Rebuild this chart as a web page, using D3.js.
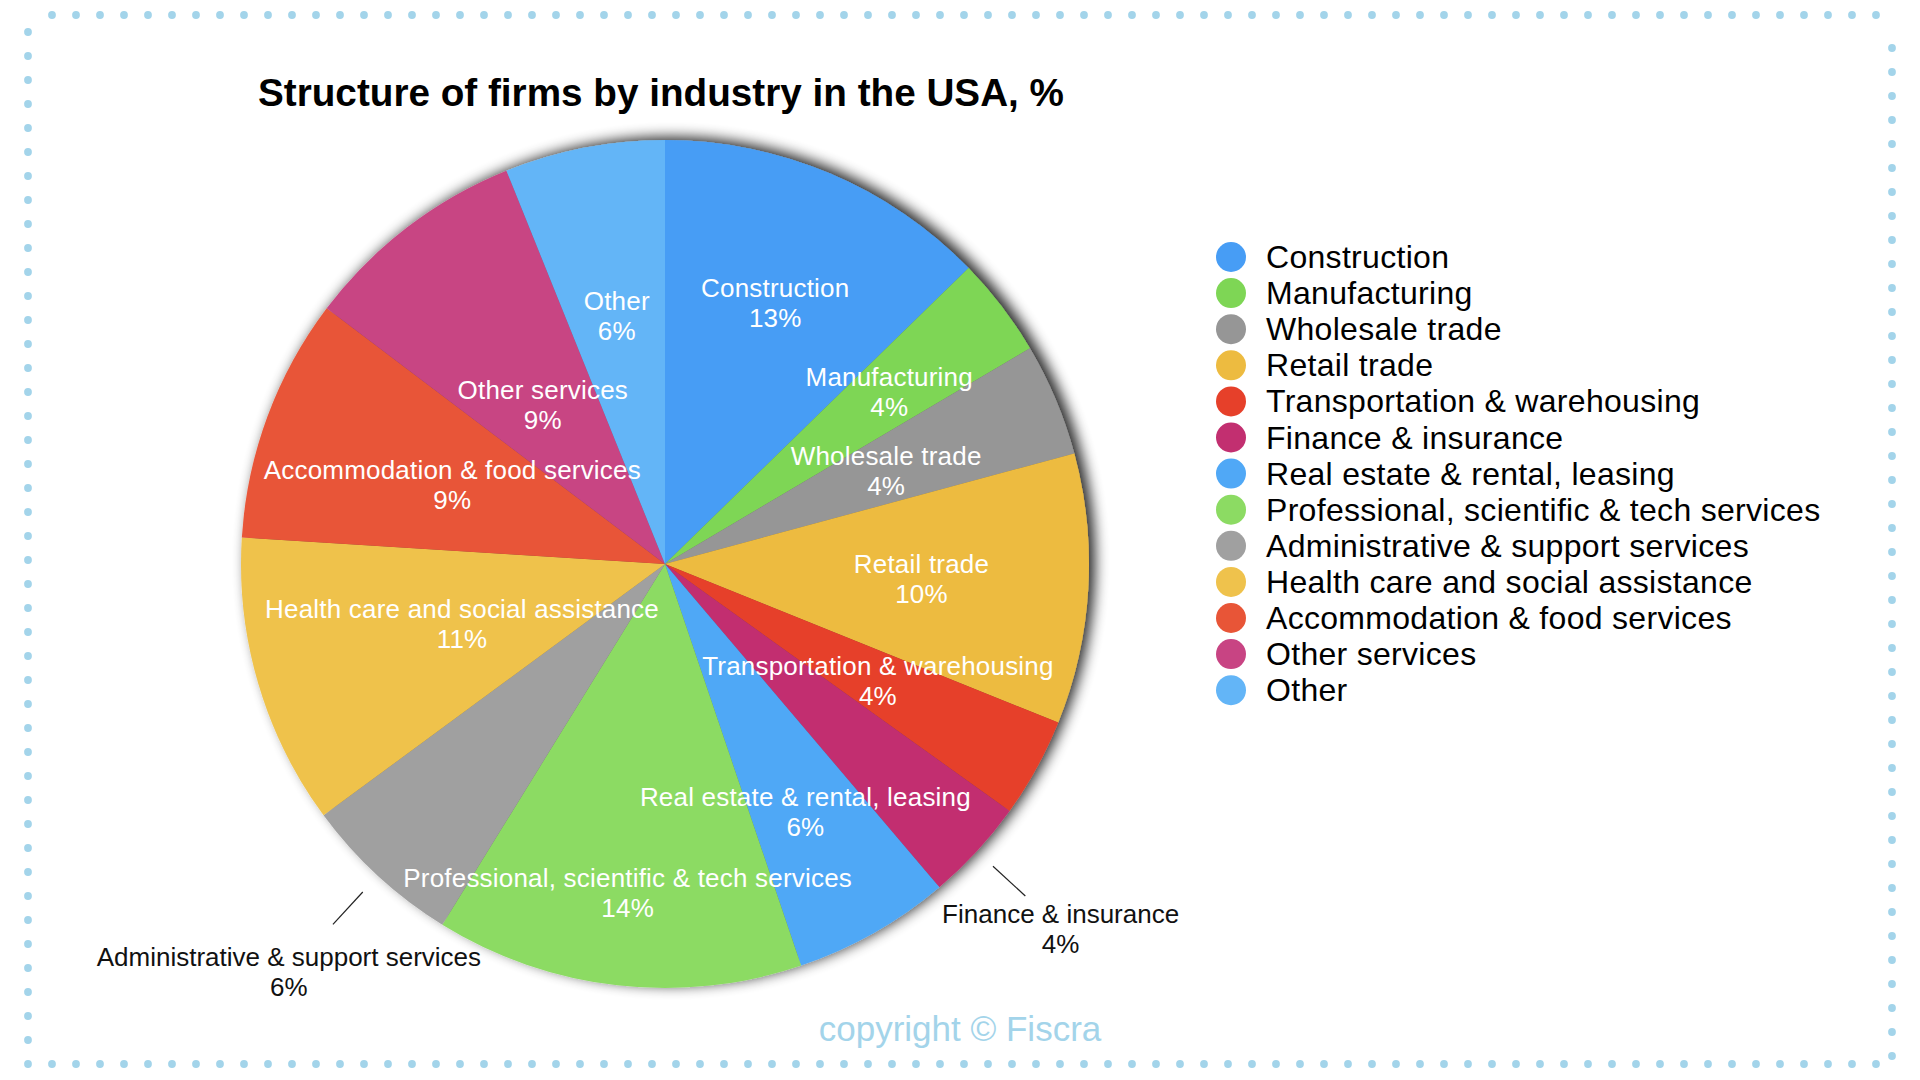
<!DOCTYPE html>
<html>
<head>
<meta charset="utf-8">
<script src="https://cdn.jsdelivr.net/npm/d3@7"></script>
<style>
  html, body { margin: 0; padding: 0; background: #ffffff; }
  svg { display: block; font-family: "Liberation Sans", Arial, Helvetica, sans-serif; }
</style>
</head>
<body>
<svg id="chart" width="1920" height="1080"></svg>
<script>
// ---------- data ----------
const categories = [
  "Construction",
  "Manufacturing",
  "Wholesale trade",
  "Retail trade",
  "Transportation & warehousing",
  "Finance & insurance",
  "Real estate & rental, leasing",
  "Professional, scientific & tech services",
  "Administrative & support services",
  "Health care and social assistance",
  "Accommodation & food services",
  "Other services",
  "Other"
];
const values = [12.7, 3.8, 4.3, 10.3, 3.8, 3.9, 6.0, 14.0, 6.1, 11.1, 9.3, 8.6, 6.1];
const colors = [
  "#479df5", "#7ed655", "#969696", "#edbb40", "#e6402a", "#c22f70",
  "#50a8f6", "#8cdb63", "#a0a0a0", "#efc24c", "#e85537", "#c84483", "#63b5f7"
];
const titleText = "Structure of firms by industry in the USA, %";
const copyrightText = "copyright \u00A9 Fiscra";

// ---------- layout ----------
const W = 1920, H = 1080;
const cx = 665, cy = 564, R = 424;
// radial position of each in-slice label (fraction of radius); null = outside label
const labelRadiusFrac = [0.669, 0.666, 0.566, 0.606, 0.573, null, 0.672, 0.781, null, 0.499, 0.535, 0.474, 0.597];
const outsideLabelR = { 5: 538, 8: 555 };
const labelFont = 26, labelLine = 30;

const data = categories.map((c, i) => ({ name: c, value: values[i], color: colors[i], i }));
const svg = d3.select("#chart");

svg.append("rect").attr("width", W).attr("height", H).attr("fill", "#ffffff");

// ---------- dotted frame ----------
const dotColor = "#a3d4ea";
const dots = [];
for (let x = 52; x <= 1880; x += 24) dots.push([x, 15]);
for (let y = 32; y <= 1064; y += 24) dots.push([28, y]);
for (let x = 52; x <= 1880; x += 24) dots.push([x, 1064]);
for (let y = 1056; y >= 30; y -= 24) dots.push([1892, y]);
svg.append("g").selectAll("circle").data(dots).join("circle")
  .attr("cx", d => d[0]).attr("cy", d => d[1]).attr("r", 3.9).attr("fill", dotColor);

// ---------- title ----------
svg.append("text")
  .attr("x", 258).attr("y", 106)
  .attr("font-size", 38).attr("font-weight", "bold").attr("fill", "#000")
  .attr("textLength", 806).attr("lengthAdjust", "spacingAndGlyphs")
  .text(titleText);

// ---------- shadow filter ----------
const defs = svg.append("defs");
const f = defs.append("filter").attr("id", "shadow")
  .attr("x", "-20%").attr("y", "-20%").attr("width", "140%").attr("height", "140%");
f.append("feGaussianBlur").attr("in", "SourceAlpha").attr("stdDeviation", 7).attr("result", "blur");
f.append("feOffset").attr("in", "blur").attr("dx", 6).attr("dy", -3).attr("result", "off");
f.append("feComponentTransfer").attr("in", "off").attr("result", "sh")
  .append("feFuncA").attr("type", "linear").attr("slope", 0.85);
const fm = f.append("feMerge");
fm.append("feMergeNode").attr("in", "sh");
fm.append("feMergeNode").attr("in", "SourceGraphic");

// ---------- pie ----------
const pie = d3.pie().sort(null).value(d => d.value);
const arcs = pie(data);
const arc = d3.arc().innerRadius(0).outerRadius(R);

const g = svg.append("g").attr("transform", `translate(${cx},${cy})`);
g.append("g").attr("filter", "url(#shadow)")
  .selectAll("path").data(arcs).join("path")
  .attr("d", arc).attr("fill", d => d.data.color);

// in-slice labels
const inside = arcs.filter(d => labelRadiusFrac[d.data.i] !== null);
const insideG = g.append("g").selectAll("text").data(inside).join("text")
  .attr("text-anchor", "middle").attr("font-size", labelFont).attr("fill", "#ffffff")
  .attr("letter-spacing", 0.2)
  .attr("transform", d => {
    const r = labelRadiusFrac[d.data.i] * R;
    const [x, y] = d3.arc().innerRadius(r).outerRadius(r).centroid(d);
    return `translate(${x},${y})`;
  });
insideG.append("tspan").attr("x", 0).attr("y", -labelLine / 2 + labelFont * 0.35).text(d => d.data.name);
insideG.append("tspan").attr("x", 0).attr("y", labelLine / 2 + labelFont * 0.35).text(d => Math.round(d.data.value) + "%");

// outside labels with leader lines
const outside = arcs.filter(d => labelRadiusFrac[d.data.i] === null);
g.append("g").selectAll("line").data(outside).join("line")
  .attr("x1", d => d3.arc().innerRadius(446).outerRadius(446).centroid(d)[0])
  .attr("y1", d => d3.arc().innerRadius(446).outerRadius(446).centroid(d)[1])
  .attr("x2", d => d3.arc().innerRadius(490).outerRadius(490).centroid(d)[0])
  .attr("y2", d => d3.arc().innerRadius(490).outerRadius(490).centroid(d)[1])
  .attr("stroke", "#222").attr("stroke-width", 1.2);
const outG = g.append("g").selectAll("text").data(outside).join("text")
  .attr("text-anchor", "middle").attr("font-size", labelFont).attr("fill", "#111")
  .attr("transform", d => {
    const r = outsideLabelR[d.data.i];
    const [x, y] = d3.arc().innerRadius(r).outerRadius(r).centroid(d);
    return `translate(${x},${y})`;
  });
outG.append("tspan").attr("x", 0).attr("y", -labelLine / 2 + labelFont * 0.35).text(d => d.data.name);
outG.append("tspan").attr("x", 0).attr("y", labelLine / 2 + labelFont * 0.35).text(d => Math.round(d.data.value) + "%");

// ---------- legend ----------
const legY = d3.scalePoint().domain(categories).range([257, 257 + 36.1 * (categories.length - 1)]);
const leg = svg.append("g").selectAll("g").data(data).join("g")
  .attr("transform", d => `translate(0,${legY(d.name)})`);
leg.append("circle").attr("cx", 1231).attr("cy", 0).attr("r", 15).attr("fill", d => d.color);
leg.append("text").attr("x", 1266).attr("y", 11).attr("font-size", 32).attr("fill", "#000")
  .attr("letter-spacing", 0.3)
  .text(d => d.name);

// ---------- copyright ----------
svg.append("text").attr("x", 960).attr("y", 1041).attr("text-anchor", "middle")
  .attr("font-size", 35).attr("fill", "#a3d4ea").text(copyrightText);
</script>
</body>
</html>
